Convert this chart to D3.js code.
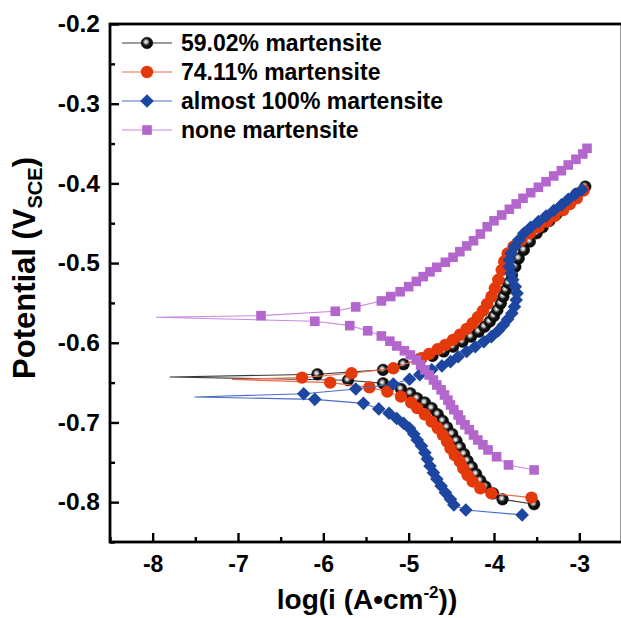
<!DOCTYPE html>
<html><head><meta charset="utf-8">
<script src="https://cdn.jsdelivr.net/npm/d3@7"></script>
<style>
body{margin:0;background:#fff}
svg{display:block}
text{font-family:"Liberation Sans",Arial,Helvetica,sans-serif;font-weight:bold;fill:#000}
</style>
</head><body>
<svg id="chart" width="621" height="618"></svg>
<script>
// ---------------- data ----------------
const seriesNames = ["59.02% martensite", "74.11% martensite", "almost 100% martensite", "none martensite"];
const xTickValues = [-8, -7, -6, -5, -4, -3];
const yTickValues = [-0.8, -0.7, -0.6, -0.5, -0.4, -0.3, -0.2];
const xDomain = [-8.5, -2.5];
const yDomain = [-0.85, -0.2];

// each curve: corrosion tip [log i, E], anodic branch (upward), cathodic branch (downward)
const m59Tip = [-7.80, -0.643];
const m59Anodic = [[-6.07,-0.6395],[-5.30,-0.634],[-5.06,-0.627],[-4.88,-0.621],[-4.72,-0.6166],[-4.59,-0.611],[-4.48,-0.605],[-4.37,-0.5986],[-4.27,-0.5923],[-4.18,-0.586],[-4.11,-0.5798],[-4.05,-0.5735],[-4.00,-0.5664],[-3.96,-0.5589],[-3.92,-0.5505],[-3.89,-0.542],[-3.86,-0.5337],[-3.83,-0.525],[-3.79,-0.515],[-3.75,-0.5045],[-3.71,-0.494],[-3.65,-0.4836],[-3.58,-0.473],[-3.50,-0.4626],[-3.43,-0.455],[-3.35,-0.447],[-3.27,-0.439],[-3.19,-0.431],[-3.11,-0.422],[-3.03,-0.413],[-2.93,-0.404]];
const m59Cathodic = [[-5.71,-0.647],[-5.30,-0.651],[-5.09,-0.658],[-4.98,-0.6634],[-4.90,-0.6697],[-4.81,-0.675],[-4.73,-0.682],[-4.66,-0.6897],[-4.60,-0.698],[-4.55,-0.706],[-4.49,-0.7144],[-4.44,-0.723],[-4.40,-0.731],[-4.35,-0.7395],[-4.31,-0.748],[-4.26,-0.756],[-4.21,-0.7646],[-4.16,-0.773],[-4.10,-0.7805],[-4.01,-0.789],[-3.90,-0.7964],[-3.53,-0.8026]];

const m74Tip = [-7.07, -0.646];
const m74Anodic = [[-6.25,-0.6438],[-5.67,-0.6383],[-5.18,-0.632],[-4.85,-0.6195],[-4.76,-0.614],[-4.66,-0.608],[-4.57,-0.6028],[-4.48,-0.5965],[-4.40,-0.590],[-4.32,-0.5827],[-4.25,-0.5755],[-4.19,-0.568],[-4.13,-0.560],[-4.08,-0.5513],[-4.03,-0.542],[-3.99,-0.5316],[-3.95,-0.521],[-3.91,-0.5087],[-3.88,-0.498],[-3.84,-0.488],[-3.77,-0.479],[-3.68,-0.471],[-3.58,-0.4626],[-3.48,-0.455],[-3.38,-0.448],[-3.29,-0.441],[-3.19,-0.4334],[-3.11,-0.426],[-3.03,-0.4187],[-2.95,-0.409]];
const m74Cathodic = [[-5.92,-0.650],[-5.46,-0.656],[-5.25,-0.6613],[-5.09,-0.6676],[-4.97,-0.675],[-4.90,-0.682],[-4.81,-0.690],[-4.73,-0.699],[-4.66,-0.707],[-4.60,-0.7157],[-4.55,-0.724],[-4.51,-0.7324],[-4.46,-0.741],[-4.40,-0.749],[-4.36,-0.7575],[-4.31,-0.766],[-4.25,-0.774],[-4.16,-0.7826],[-4.03,-0.789],[-3.56,-0.7943]];

const m100Tip = [-7.51, -0.668];
const m100Anodic = [[-6.23,-0.664],[-5.62,-0.658],[-5.18,-0.6517],[-4.99,-0.6458],[-4.87,-0.640],[-4.73,-0.634],[-4.61,-0.629],[-4.51,-0.6237],[-4.42,-0.6175],[-4.32,-0.611],[-4.22,-0.605],[-4.12,-0.5986],[-4.03,-0.5923],[-3.95,-0.585],[-3.89,-0.5777],[-3.84,-0.5705],[-3.79,-0.563],[-3.76,-0.5547],[-3.74,-0.5463],[-3.73,-0.538],[-3.75,-0.5296],[-3.78,-0.521],[-3.80,-0.5128],[-3.82,-0.5045],[-3.82,-0.496],[-3.80,-0.4877],[-3.76,-0.4794],[-3.71,-0.471],[-3.65,-0.4626],[-3.57,-0.455],[-3.48,-0.448],[-3.39,-0.441],[-3.30,-0.434],[-3.21,-0.427],[-3.13,-0.420],[-3.05,-0.414],[-2.97,-0.408]];
const m100Cathodic = [[-6.10,-0.671],[-5.53,-0.676],[-5.35,-0.683],[-5.23,-0.6885],[-5.14,-0.695],[-5.06,-0.701],[-4.99,-0.7073],[-4.94,-0.7144],[-4.90,-0.722],[-4.85,-0.7295],[-4.81,-0.738],[-4.78,-0.746],[-4.75,-0.7546],[-4.71,-0.763],[-4.67,-0.771],[-4.62,-0.7797],[-4.57,-0.788],[-4.51,-0.7964],[-4.47,-0.8035],[-4.33,-0.8098],[-3.67,-0.816]];

const noneTip = [-7.96, -0.568];
const noneAnodic = [[-6.73,-0.566],[-5.86,-0.5605],[-5.62,-0.555],[-5.32,-0.5475],[-5.21,-0.542],[-5.10,-0.536],[-5.00,-0.5296],[-4.91,-0.523],[-4.83,-0.517],[-4.75,-0.511],[-4.67,-0.5053],[-4.57,-0.499],[-4.48,-0.4927],[-4.40,-0.4857],[-4.32,-0.4785],[-4.24,-0.472],[-4.16,-0.4635],[-4.08,-0.4544],[-4.00,-0.4469],[-3.91,-0.4397],[-3.82,-0.4325],[-3.74,-0.4258],[-3.66,-0.4187],[-3.57,-0.4117],[-3.48,-0.4049],[-3.39,-0.3979],[-3.30,-0.3907],[-3.21,-0.3841],[-3.13,-0.3769],[-3.04,-0.3698],[-2.96,-0.3631],[-2.91,-0.356]];
const noneCathodic = [[-6.10,-0.573],[-5.69,-0.5785],[-5.48,-0.585],[-5.32,-0.5915],[-5.22,-0.598],[-5.14,-0.604],[-5.05,-0.610],[-4.98,-0.6153],[-4.91,-0.6216],[-4.86,-0.628],[-4.81,-0.634],[-4.76,-0.6404],[-4.71,-0.6467],[-4.67,-0.653],[-4.62,-0.659],[-4.58,-0.6655],[-4.54,-0.672],[-4.51,-0.678],[-4.47,-0.684],[-4.42,-0.6906],[-4.39,-0.697],[-4.34,-0.703],[-4.29,-0.709],[-4.24,-0.7157],[-4.19,-0.722],[-4.13,-0.728],[-4.07,-0.7345],[-3.97,-0.743],[-3.83,-0.7533],[-3.53,-0.7596]];

// ---------------- chart ----------------
const svg = d3.select("#chart");
const pLeft = 110, pRight = 622, pTop = 24, pBottom = 542;
const x = d3.scaleLinear().domain(xDomain).range([pLeft, pRight]);
const y = d3.scaleLinear().domain(yDomain).range([pBottom, pTop]);

const defs = svg.append("defs");
const grad = defs.append("radialGradient").attr("id", "ball").attr("cx", "0.42").attr("cy", "0.42").attr("r", "0.6").attr("fx","0.42").attr("fy","0.4");
grad.append("stop").attr("offset", "0").attr("stop-color", "#ffffff");
grad.append("stop").attr("offset", "0.22").attr("stop-color", "#bbbbbb");
grad.append("stop").attr("offset", "0.5").attr("stop-color", "#1a1a1a");
grad.append("stop").attr("offset", "1").attr("stop-color", "#000000");

const styles = [
  {name: seriesNames[0], tip: m59Tip, an: m59Anodic, ca: m59Cathodic, line: "#3a3a3a", fill: "url(#ball)", shape: "ball"},
  {name: seriesNames[1], tip: m74Tip, an: m74Anodic, ca: m74Cathodic, line: "#f26a48", fill: "#e43a0b", shape: "circle"},
  {name: seriesNames[2], tip: m100Tip, an: m100Anodic, ca: m100Cathodic, line: "#4f6cc4", fill: "#1c46a0", shape: "diamond"},
  {name: seriesNames[3], tip: noneTip, an: noneAnodic, ca: noneCathodic, line: "#c68ade", fill: "#b367cc", shape: "square"}
];

function drawMarker(sel, shape, fill) {
  if (shape === "ball") return sel.append("circle").attr("r", 5.8).attr("fill", fill).attr("stroke", "#000").attr("stroke-width", 0.5);
  if (shape === "circle") return sel.append("circle").attr("r", 6.2).attr("fill", fill);
  if (shape === "diamond") return sel.append("path").attr("d", "M0,-6.8L6.8,0L0,6.8L-6.8,0Z").attr("fill", fill);
  return sel.append("rect").attr("x", -4.8).attr("y", -4.8).attr("width", 9.6).attr("height", 9.6).attr("fill", fill);
}

const clip = defs.append("clipPath").attr("id", "plotclip");
clip.append("rect").attr("x", pLeft).attr("y", pTop).attr("width", pRight - pLeft).attr("height", pBottom - pTop);

const plot = svg.append("g").attr("clip-path", "url(#plotclip)");
const lineGen = d3.line().x(d => x(d[0])).y(d => y(d[1]));

styles.forEach(s => {
  const full = s.ca.slice().reverse().concat([s.tip]).concat(s.an);
  const gS = plot.append("g");
  gS.append("path").attr("d", lineGen(full)).attr("fill", "none").attr("stroke", s.line).attr("stroke-width", 1.1);
  const pts = s.ca.concat(s.an);
  pts.forEach(p => {
    const m = gS.append("g").attr("transform", `translate(${x(p[0])},${y(p[1])})`);
    drawMarker(m, s.shape, s.fill);
  });
});

// axes (ticks inward)
const xMinor = d3.range(-8.5, -2.4, 0.5).map(v => +v.toFixed(2)).filter(v => !xTickValues.includes(v));
const yMinor = d3.range(-0.85, -0.19, 0.1).map(v => +v.toFixed(2));

const xAxis = svg.append("g").attr("transform", `translate(0,${pBottom})`)
  .call(d3.axisBottom(x).tickValues(xTickValues).tickSize(-9).tickPadding(14).tickFormat(d => String(d)));
const yAxis = svg.append("g").attr("transform", `translate(${pLeft},0)`)
  .call(d3.axisLeft(y).tickValues(yTickValues).tickSize(-9).tickPadding(10).tickFormat(d => d.toFixed(1)));

svg.append("g").attr("transform", `translate(0,${pBottom})`)
  .call(d3.axisBottom(x).tickValues(xMinor).tickSize(-5).tickFormat(""));
svg.append("g").attr("transform", `translate(${pLeft},0)`)
  .call(d3.axisLeft(y).tickValues(yMinor).tickSize(-5).tickFormat(""));

svg.selectAll(".domain").remove();
svg.selectAll(".tick line").attr("stroke", "#000").attr("stroke-width", 2.4);
xAxis.selectAll("text").attr("font-size", 23).attr("font-family", '"Liberation Sans",Arial,sans-serif').attr("font-weight", "bold");
yAxis.selectAll("text").attr("font-size", 24.5).attr("font-family", '"Liberation Sans",Arial,sans-serif').attr("font-weight", "bold");

// frame
svg.append("rect").attr("x", pLeft).attr("y", pTop).attr("width", pRight - pLeft).attr("height", pBottom - pTop)
  .attr("fill", "none").attr("stroke", "#000").attr("stroke-width", 2.8);

// axis titles
const xt = svg.append("text").attr("x", 367).attr("y", 609).attr("text-anchor", "middle").attr("font-size", 28);
xt.append("tspan").text("log(i (A\u2022cm");
xt.append("tspan").attr("font-size", 17).attr("dy", -11).text("-2");
xt.append("tspan").attr("dy", 11).text("))");

const yt = svg.append("text").attr("transform", "translate(35,268) rotate(-90)").attr("text-anchor", "middle").attr("font-size", 31);
yt.append("tspan").text("Potential (V");
yt.append("tspan").attr("font-size", 20).attr("dy", 7).text("SCE");
yt.append("tspan").attr("dy", -7).text(")");

// legend
const legY = [43, 72, 101, 130];
styles.forEach((s, i) => {
  const lg = svg.append("g").attr("transform", `translate(0,${legY[i]})`);
  lg.append("line").attr("x1", 122).attr("x2", 172).attr("y1", 0).attr("y2", 0).attr("stroke", s.line).attr("stroke-width", 1.1);
  const m = lg.append("g").attr("transform", "translate(147,0)");
  drawMarker(m, s.shape, s.fill);
  lg.append("text").attr("x", 181).attr("y", 8).attr("font-size", 23).text(s.name);
});
</script>
</body></html>
